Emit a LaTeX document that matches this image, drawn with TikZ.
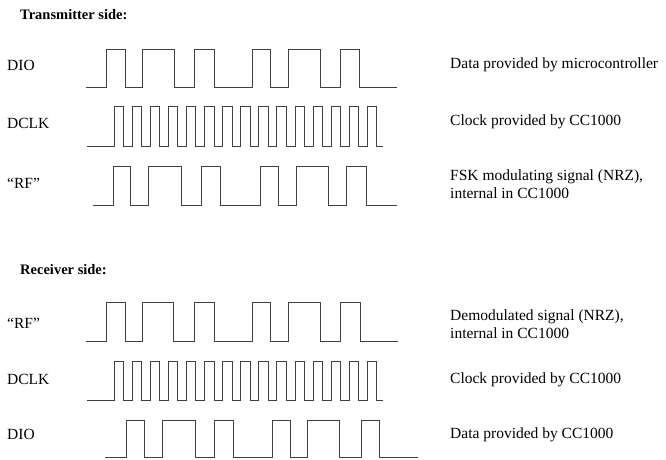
\documentclass[tikz,border=0pt]{standalone}
\usepackage{fontspec}
\setmainfont{Liberation Serif}
\tikzset{
  sig/.style={draw=black!75, line width=0.9pt, line join=miter},
  signame/.style={anchor=west, inner sep=0pt, font=\fontsize{15.5}{17}\selectfont},
  desc/.style={anchor=west, inner sep=0pt, align=left, font=\fontsize{15.5}{18}\selectfont},
  head/.style={anchor=west, inner sep=0pt, font=\fontsize{14.5}{17}\selectfont\bfseries}
}
\begin{document}
\begin{tikzpicture}[x=1pt,y=1pt,yscale=-1,xscale=1]
\useasboundingbox (0,0) rectangle (666,459);

% Headings
\node[head] (txHead) at (20,15) {Transmitter side:};
\node[head] (rxHead) at (20,270) {Receiver side:};

% Signal names
\node[signame] (txDioName) at (7,65) {DIO};
\node[signame] (txClkName) at (7,123) {DCLK};
\node[signame] (txRfName) at (7,183) {“RF”};
\node[signame] (rxRfName) at (7,323) {“RF”};
\node[signame] (rxClkName) at (7,379) {DCLK};
\node[signame] (rxDioName) at (7,434) {DIO};

%Transmitter DIO
\draw[sig] (86,87.5) -| (106.7,49.5) -| (125,87.5) -| (142.7,49.5) -| (174.3,87.5)
  -| (194.3,49.5) -| (214.3,87.5) -| (252.3,49.5) -| (270.7,87.5) -| (288.3,49.5)
  -| (320,87.5) -| (340,49.5) -| (359.3,87.5) -- (396.7,87.5);
%Transmitter DCLK
\draw[sig] (87,146.7) foreach \k in {0,...,14} { -| ({114.3+\k*18.07},106) -| ({123.6+\k*18.07},146.7) } -- (383,146.7);
%Transmitter RF
\draw[sig] (93,205.5) -| (113.3,166) -| (130,205.5) -| (148.3,166) -| (181,205.5)
  -| (201,166) -| (220,205.5) -| (260,166) -| (278.7,205.5) -| (296,166)
  -| (328.3,205.5) -| (346.7,166) -| (366.7,205.5) -- (396.7,205.5);

%Receiver RF
\draw[sig] (86,341.7) -| (106,302) -| (125,341.7) -| (142.7,302) -| (173.3,341.7)
  -| (194.3,302) -| (214.3,341.7) -| (252.3,302) -| (270.7,341.7) -| (288.3,302)
  -| (320,341.7) -| (340,302) -| (360,341.7) -- (398,341.7);
%Receiver DCLK
\draw[sig] (87,400) foreach \k in {0,...,14} { -| ({114.3+\k*18.07},361.7) -| ({123.6+\k*18.07},400) } -- (383,400);
%Receiver DIO
\draw[sig] (105,457.8) -| (126.7,420) -| (144,457.8) -| (162,420) -| (195,457.8)
  -| (214,420) -| (233.3,457.8) -| (272.3,420) -| (290,457.8) -| (307.7,420)
  -| (339.3,457.8) -| (361,420) -| (379,457.8) -- (418,457.8);

% Descriptions
\node[desc] (txDioDesc) at (450,65) {Data provided by microcontroller};
\node[desc] (txClkDesc) at (450,122) {Clock provided by CC1000};
\node[desc] (txRfDesc) at (450,184) {FSK modulating signal (NRZ),\\internal in CC1000};
\node[desc] (rxRfDesc) at (450,324.5) {Demodulated signal (NRZ),\\internal in CC1000};
\node[desc] (rxClkDesc) at (450,380) {Clock provided by CC1000};
\node[desc] (rxDioDesc) at (450,435) {Data provided by CC1000};

\end{tikzpicture}
\end{document}
